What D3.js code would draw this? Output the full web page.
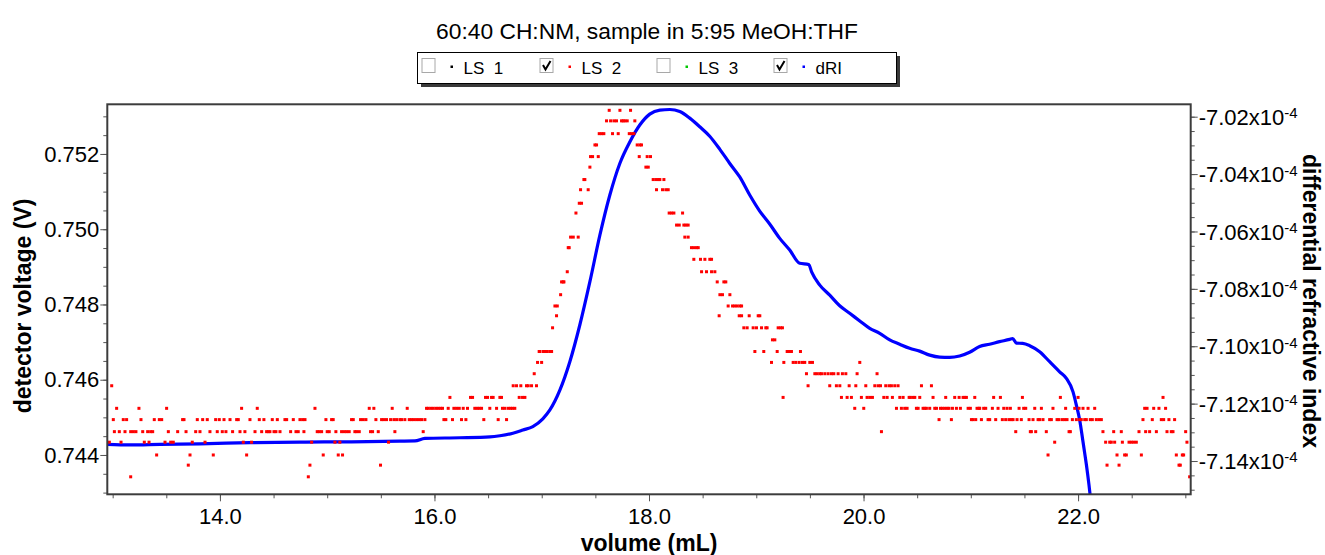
<!DOCTYPE html>
<html><head><meta charset="utf-8">
<script src="https://cdn.jsdelivr.net/npm/d3@7"></script>
<style>
body{margin:0;background:#fff}
svg{display:block;font-family:"Liberation Sans",Arial,sans-serif}
</style>
</head><body>
<svg id="chart" width="1325" height="555"></svg>
<script>
// ---------------- data ----------------
const chartTitle = "60:40 CH:NM, sample in 5:95 MeOH:THF";
const xAxisTitle = "volume (mL)";
const leftAxisTitle = "detector voltage (V)";
const rightAxisTitle = "differential refractive index";

const xTicks = [14, 16, 18, 20, 22];
const xTickLabels = ["14.0", "16.0", "18.0", "20.0", "22.0"];
const leftTicks = [0.744, 0.746, 0.748, 0.750, 0.752];
const leftTickLabels = ["0.744", "0.746", "0.748", "0.750", "0.752"];
const rightTicks = [-7.14, -7.12, -7.10, -7.08, -7.06, -7.04, -7.02];   // x10^-4
const rightTickLabels = ["-7.14", "-7.12", "-7.10", "-7.08", "-7.06", "-7.04", "-7.02"];
const rightTickExponent = "-4";

const legendNames = ["LS  1", "LS  2", "LS  3", "dRI"];
const legendColors = ["#000000", "#ff0000", "#00c800", "#0000ff"];
const legendChecked = [false, true, false, true];

// dRI trace: [volume mL, dRI in units of 1e-4]
const driPoints = [
 [12.950,-7.1342],[13.162,-7.1344],[13.441,-7.1342],[13.814,-7.1340],[14.280,-7.1336],
 [14.746,-7.1334],[15.212,-7.1333],[15.678,-7.1331],[15.818,-7.1330],[15.911,-7.1321],
 [16.237,-7.1319],[16.517,-7.1316],[16.610,-7.1312],[16.731,-7.1303],[16.824,-7.1292],
 [16.917,-7.1280],[17.010,-7.1253],[17.076,-7.1222],[17.169,-7.1153],[17.262,-7.1054],
 [17.355,-7.0926],[17.449,-7.0775],[17.542,-7.0613],[17.635,-7.0473],[17.728,-7.0363],
 [17.821,-7.0288],[17.914,-7.0229],[18.007,-7.0191],[18.101,-7.0177],[18.194,-7.0175],
 [18.287,-7.0182],[18.380,-7.0205],[18.473,-7.0235],[18.566,-7.0268],[18.659,-7.0313],
 [18.753,-7.0363],[18.846,-7.0410],[18.939,-7.0473],[19.032,-7.0529],[19.125,-7.0574],
 [19.219,-7.0624],[19.312,-7.0665],[19.405,-7.0711],[19.489,-7.0715],[19.517,-7.0742],
 [19.592,-7.0787],[19.685,-7.0822],[19.778,-7.0859],[19.871,-7.0885],[19.965,-7.0912],
 [20.058,-7.0938],[20.151,-7.0955],[20.244,-7.0978],[20.337,-7.0993],[20.430,-7.1007],
 [20.523,-7.1017],[20.617,-7.1031],[20.710,-7.1038],[20.803,-7.1039],[20.896,-7.1034],
 [20.989,-7.1021],[21.082,-7.1001],[21.175,-7.0993],[21.268,-7.0984],[21.362,-7.0976],
 [21.390,-7.0973],[21.425,-7.0989],[21.484,-7.0990],[21.549,-7.0998],[21.642,-7.1019],
 [21.735,-7.1054],[21.828,-7.1089],[21.891,-7.1112],[21.953,-7.1159],[21.984,-7.1205],
 [22.015,-7.1257],[22.046,-7.1333],[22.078,-7.1414],[22.102,-7.1484],[22.118,-7.1537]
];

// LS 2 detector voltage points: [volume mL, voltage V]
const ls2Points = [
 [12.969,.74434],[12.991,.74584],[13.006,.74494],[13.016,.74462],[13.037,.74524],[13.062,.74462],
 [13.078,.74434],[13.099,.74494],[13.115,.74462],[13.130,.74494],[13.168,.74342],[13.168,.74462],
 [13.193,.74462],[13.217,.74462],[13.245,.74524],[13.264,.74494],[13.280,.74462],[13.295,.74434],
 [13.326,.74462],[13.339,.74434],[13.354,.74462],[13.373,.74462],[13.388,.74494],[13.410,.74400],
 [13.435,.74494],[13.457,.74494],[13.488,.74434],[13.503,.74524],[13.519,.74462],[13.541,.74434],
 [13.565,.74434],[13.606,.74462],[13.652,.74494],[13.665,.74494],[13.684,.74462],[13.705,.74373],
 [13.721,.74400],[13.742,.74434],[13.774,.74462],[13.789,.74494],[13.814,.74462],[13.839,.74494],
 [13.861,.74434],[13.882,.74494],[13.907,.74462],[13.938,.74400],[13.960,.74494],[13.975,.74462],
 [13.994,.74494],[14.022,.74462],[14.038,.74494],[14.056,.74462],[14.094,.74494],[14.118,.74462],
 [14.156,.74494],[14.171,.74494],[14.187,.74462],[14.202,.74524],[14.218,.74434],[14.233,.74462],
 [14.249,.74400],[14.280,.74494],[14.295,.74434],[14.327,.74462],[14.348,.74524],[14.367,.74494],
 [14.389,.74462],[14.410,.74494],[14.435,.74462],[14.451,.74462],[14.466,.74462],[14.488,.74494],
 [14.504,.74462],[14.522,.74462],[14.535,.74494],[14.560,.74462],[14.606,.74494],[14.622,.74494],
 [14.659,.74462],[14.684,.74494],[14.709,.74462],[14.730,.74462],[14.746,.74494],[14.771,.74494],
 [14.783,.74462],[14.793,.74494],[14.824,.74342],[14.839,.74373],[14.855,.74434],[14.886,.74524],
 [14.907,.74462],[14.926,.74462],
 [14.948,.74462],[14.963,.74400],[14.988,.74494],[15.000,.74462],[15.019,.74462],[15.041,.74494],
 [15.056,.74494],[15.072,.74434],[15.081,.74462],[15.103,.74400],[15.118,.74434],[15.134,.74462],
 [15.143,.74400],[15.159,.74462],[15.181,.74462],[15.205,.74462],[15.227,.74494],[15.243,.74494],
 [15.258,.74462],[15.274,.74462],[15.299,.74462],[15.311,.74494],[15.336,.74494],[15.361,.74494],
 [15.392,.74524],[15.404,.74462],[15.423,.74462],[15.435,.74524],[15.454,.74494],[15.476,.74462],
 [15.497,.74373],[15.507,.74494],[15.528,.74494],[15.553,.74494],[15.572,.74434],[15.591,.74494],
 [15.606,.74524],[15.622,.74494],[15.631,.74462],[15.647,.74494],[15.678,.74494],[15.693,.74494],
 [15.724,.74494],[15.746,.74524],[15.765,.74494],[15.786,.74494],[15.808,.74494],[15.833,.74494],
 [15.858,.74494],[15.880,.74494],[15.895,.74462],[15.911,.74494],[15.926,.74524],[15.942,.74524],
 [15.966,.74524],[15.988,.74524],[16.013,.74524],[16.035,.74524],[16.057,.74524],[16.075,.74524],
 [16.088,.74494],[16.106,.74494],[16.128,.74524],[16.144,.74553],[16.168,.74494],[16.181,.74524],
 [16.206,.74524],[16.231,.74524],[16.252,.74494],[16.268,.74524],[16.293,.74494],[16.308,.74524],
 [16.336,.74553],[16.355,.74553],[16.376,.74524],[16.398,.74524],[16.417,.74524],[16.439,.74524],
 [16.460,.74494],[16.476,.74553],[16.495,.74553],[16.516,.74524],[16.532,.74553],[16.547,.74553],
 [16.579,.74524],[16.594,.74494],[16.610,.74553],[16.625,.74553],[16.634,.74524],[16.656,.74524],
 [16.672,.74494],[16.687,.74524],[16.709,.74524],[16.728,.74524],[16.734,.74584],[16.749,.74524],
 [16.765,.74584],[16.790,.74553],[16.805,.74584],[16.821,.74553],[16.843,.74553],[16.858,.74584],
 [16.874,.74584],[16.905,.74584],[16.930,.74616],[16.951,.74584],[16.961,.74646],[16.976,.74675],
 [16.983,.74675],[16.999,.74646],[17.014,.74675],[17.030,.74675],[17.051,.74675],[17.076,.74675],
 [17.092,.74675],[17.101,.74738],[17.123,.74796],[17.138,.74770],[17.145,.74796],[17.176,.74826],
 [17.185,.74860],[17.200,.74860],[17.207,.74860],[17.238,.74887],[17.247,.74951],[17.256,.74951],
 [17.269,.74979],[17.294,.74979],[17.319,.75043],[17.340,.74979],[17.350,.75069],[17.362,.75105],
 [17.371,.75069],[17.393,.75132],[17.402,.75132],[17.433,.75105],[17.449,.75165],[17.455,.75193],
 [17.474,.75193],[17.496,.75224],[17.511,.75224],[17.527,.75193],[17.536,.75254],[17.558,.75254],
 [17.579,.75254],[17.604,.75288],[17.629,.75316],[17.642,.75288],[17.660,.75254],[17.673,.75288],
 [17.697,.75288],[17.713,.75254],[17.729,.75316],[17.744,.75288],[17.760,.75288],[17.775,.75288],
 [17.797,.75288],[17.816,.75254],[17.828,.75316],[17.837,.75254],[17.859,.75254],[17.868,.75288],
 [17.890,.75224],[17.909,.75193],[17.915,.75224],[17.930,.75224],[17.971,.75165],[17.983,.75193],
 [17.993,.75165],[18.014,.75193],[18.039,.75132],[18.064,.75132],[18.070,.75105],[18.086,.75132],
 [18.101,.75132],[18.126,.75105],[18.139,.75132],[18.157,.75105],[18.179,.75105],[18.188,.75043],
 [18.210,.75043],[18.232,.75043],[18.257,.75011],[18.282,.75011],[18.313,.75043],[18.325,.75011],
 [18.334,.74979],[18.344,.75011],[18.365,.75011],[18.365,.74979],[18.396,.74951],[18.418,.74951],
 [18.418,.74920],[18.443,.74951],[18.459,.74951],[18.480,.74920],[18.490,.74887],[18.521,.74920],
 [18.536,.74887],[18.567,.74920],[18.583,.74920],[18.583,.74887],[18.614,.74887],[18.636,.74860],
 [18.654,.74770],[18.661,.74826],[18.685,.74826],[18.698,.74860],[18.716,.74860],[18.738,.74796],
 [18.754,.74826],[18.779,.74796],[18.800,.74796],[18.822,.74796],[18.841,.74770],[18.847,.74796],
 [18.863,.74796],[18.863,.74770],[18.884,.74738],[18.915,.74738],[18.934,.74770],[18.971,.74738],
 [18.987,.74675],[19.002,.74738],[19.018,.74770],
 [19.033,.74770],[19.049,.74738],[19.070,.74675],[19.089,.74738],[19.101,.74738],[19.142,.74646],
 [19.151,.74706],[19.173,.74706],[19.195,.74675],[19.204,.74738],[19.226,.74738],[19.244,.74738],
 [19.250,.74553],[19.257,.74646],[19.288,.74675],[19.306,.74675],[19.328,.74675],[19.344,.74646],
 [19.369,.74646],[19.400,.74646],[19.412,.74675],[19.431,.74646],[19.452,.74646],[19.468,.74616],
 [19.483,.74584],[19.499,.74646],[19.524,.74646],[19.546,.74616],[19.567,.74616],[19.592,.74616],
 [19.608,.74616],[19.639,.74616],[19.670,.74616],[19.685,.74584],[19.701,.74616],[19.723,.74616],
 [19.747,.74584],[19.763,.74616],[19.779,.74584],[19.794,.74553],[19.803,.74616],[19.835,.74616],
 [19.847,.74553],[19.866,.74584],[19.887,.74553],[19.918,.74524],[19.928,.74584],[19.940,.74616],
 [19.965,.74646],[19.980,.74553],[20.002,.74524],[20.021,.74584],[20.033,.74553],[20.058,.74553],
 [20.083,.74553],[20.105,.74584],[20.126,.74616],[20.136,.74584],[20.158,.74584],[20.167,.74462],
 [20.189,.74553],[20.207,.74584],[20.220,.74553],[20.238,.74584],[20.260,.74584],[20.269,.74553],
 [20.291,.74584],[20.307,.74524],[20.322,.74584],[20.338,.74553],[20.353,.74524],[20.369,.74553],
 [20.384,.74524],[20.406,.74524],[20.425,.74553],[20.437,.74553],[20.462,.74553],[20.478,.74553],
 [20.493,.74524],[20.509,.74524],[20.524,.74553],[20.540,.74584],[20.555,.74524],[20.571,.74524],
 [20.586,.74524],[20.617,.74524],[20.633,.74584],[20.648,.74553],[20.664,.74524],[20.680,.74524],
 [20.704,.74494],[20.717,.74524],[20.735,.74524],[20.757,.74524],[20.766,.74553],[20.779,.74524],
 [20.797,.74524],[20.819,.74494],[20.829,.74524],[20.850,.74553],[20.866,.74524],[20.891,.74553],
 [20.903,.74524],[20.928,.74553],[20.944,.74553],[20.959,.74553],[20.975,.74524],[20.996,.74524],
 [21.006,.74494],[21.021,.74494],[21.037,.74553],[21.046,.74494],[21.058,.74524],[21.077,.74524],
 [21.083,.74524],[21.099,.74494],[21.120,.74524],[21.139,.74524],[21.161,.74494],[21.176,.74494],
 [21.201,.74524],[21.213,.74553],[21.232,.74494],[21.254,.74524],[21.276,.74553],[21.294,.74494],
 [21.307,.74524],[21.325,.74494],[21.338,.74524],[21.356,.74494],[21.369,.74524],[21.378,.74494],
 [21.394,.74494],[21.419,.74462],[21.431,.74494],[21.450,.74524],[21.471,.74494],[21.481,.74553],
 [21.493,.74524],[21.512,.74524],[21.543,.74494],[21.555,.74462],[21.565,.74462],[21.580,.74494],
 [21.596,.74524],[21.605,.74462],[21.627,.74494],[21.642,.74494],[21.658,.74524],[21.673,.74494],
 [21.704,.74462],[21.720,.74400],[21.735,.74494],[21.751,.74494],[21.766,.74524],[21.782,.74434],
 [21.804,.74494],[21.822,.74494],[21.835,.74553],[21.853,.74494],[21.875,.74494],[21.884,.74524],
 [21.897,.74494],[21.916,.74462],[21.928,.74462],[21.947,.74494],[21.969,.74524],[21.984,.74494],
 [22.000,.74553],[22.009,.74524],[22.015,.74494],[22.030,.74494],[22.046,.74524],[22.062,.74494],
 [22.077,.74494],[22.093,.74524],[22.114,.74494],[22.133,.74494],[22.155,.74524],[22.170,.74494],
 [22.195,.74494],[22.217,.74494],[22.232,.74462],[22.257,.74434],[22.270,.74373],[22.295,.74434],
 [22.310,.74434],[22.332,.74462],[22.341,.74434],[22.363,.74400],[22.382,.74373],[22.403,.74462],
 [22.413,.74434],[22.434,.74400],[22.450,.74400],[22.475,.74434],[22.496,.74434],[22.518,.74434],
 [22.543,.74434],[22.568,.74462],[22.590,.74400],[22.605,.74494],[22.621,.74524],[22.630,.74462],
 [22.643,.74524],[22.667,.74462],[22.692,.74494],[22.705,.74524],[22.730,.74462],[22.754,.74524],
 [22.776,.74494],[22.792,.74553],[22.798,.74494],[22.816,.74524],[22.829,.74462],[22.847,.74494],
 [22.869,.74462],[22.885,.74462],[22.900,.74494],[22.916,.74400],[22.941,.74373],[22.953,.74373],
 [22.972,.74400],[22.984,.74400],[23.003,.74462],[23.015,.74434],[23.040,.74342]
];

// ---------------- layout ----------------
const W = 1325, H = 555;
const plot = {left: 107.3, right: 1190.7, top: 104.3, bottom: 494.3};
const FONT = '"Liberation Sans", Arial, sans-serif';

const svg = d3.select("#chart");

const x = d3.scaleLinear().domain([12.95, 23.05]).range([plot.left, plot.right]);
const yL = d3.scaleLinear().domain([0.742955, 0.75332]).range([plot.bottom, plot.top]);
const yR = d3.scaleLinear().domain([-7.1516, -7.01568]).range([plot.bottom, plot.top]);

// title
svg.append("text").attr("x", 647).attr("y", 39).attr("text-anchor", "middle")
  .attr("font-size", 22.8).attr("fill", "#000").text(chartTitle);

// legend
const lg = svg.append("g");
lg.append("rect").attr("x", 421).attr("y", 56).attr("width", 479).attr("height", 31).attr("fill", "#3a3a3a");
lg.append("rect").attr("x", 417.5).attr("y", 52.5).attr("width", 479).attr("height", 31)
  .attr("fill", "#fff").attr("stroke", "#000").attr("stroke-width", 1);
const itemX = [421.5, 539.5, 656.5, 773.5];
const items = lg.selectAll("g.item").data(legendNames).join("g").attr("class", "item")
  .attr("transform", (d, i) => `translate(${itemX[i]},0)`);
items.append("rect").attr("x", 0.5).attr("y", 58.5).attr("width", 13).attr("height", 14)
  .attr("fill", "#fff").attr("stroke", "#a8a8a8").attr("stroke-width", 1);
items.filter((d, i) => legendChecked[i]).append("path")
  .attr("d", "M3.5,65 L6,69.5 L11,61").attr("fill", "none").attr("stroke", "#000").attr("stroke-width", 2);
items.append("rect").attr("x", 29).attr("y", 65.5).attr("width", 2.5).attr("height", 2.5)
  .attr("fill", (d, i) => legendColors[i]);
items.append("text").attr("x", 42).attr("y", 74).attr("font-size", 17).attr("fill", "#000")
  .style("white-space", "pre").text(d => d);

// clip
svg.append("clipPath").attr("id", "clip").append("rect")
  .attr("x", plot.left).attr("y", plot.top)
  .attr("width", plot.right - plot.left).attr("height", plot.bottom - plot.top);

// axes helpers
function styleAxis(g) {
  g.select(".domain").remove();
  g.selectAll(".tick line").attr("stroke", "#555").attr("stroke-width", 1);
  g.selectAll(".tick text").attr("fill", "#000").attr("font-size", 22).attr("font-family", FONT);
}
const xMinor = d3.range(13, 23.01, 0.5);
const lMinor = d3.range(0.743, 0.75301, 0.0005);
const rMinor = d3.range(-7.15, -7.0199, 0.005);

svg.append("g").attr("transform", `translate(0,${plot.bottom})`)
  .call(d3.axisBottom(x).tickValues(xMinor).tickSize(4).tickFormat("")).call(styleAxis);
svg.append("g").attr("transform", `translate(0,${plot.bottom})`)
  .call(d3.axisBottom(x).tickValues(xTicks).tickSize(7).tickPadding(7)
    .tickFormat((d, i) => xTickLabels[i])).call(styleAxis);

svg.append("g").attr("transform", `translate(${plot.left},0)`)
  .call(d3.axisLeft(yL).tickValues(lMinor).tickSize(4).tickFormat("")).call(styleAxis);
svg.append("g").attr("transform", `translate(${plot.left},0)`)
  .call(d3.axisLeft(yL).tickValues(leftTicks).tickSize(7).tickPadding(1)
    .tickFormat((d, i) => leftTickLabels[i])).call(styleAxis);

svg.append("g").attr("transform", `translate(${plot.right},0)`)
  .call(d3.axisRight(yR).tickValues(rMinor).tickSize(4).tickFormat("")).call(styleAxis);
const rAx = svg.append("g").attr("transform", `translate(${plot.right},0)`)
  .call(d3.axisRight(yR).tickValues(rightTicks).tickSize(7).tickFormat("")).call(styleAxis);
rAx.selectAll(".tick").each(function(d, i) {
  const t = d3.select(this).append("text").attr("x", 8).attr("dy", "0.35em")
    .attr("fill", "#000").attr("font-size", 22).attr("font-family", FONT).attr("text-anchor", "start");
  t.append("tspan").text(rightTickLabels[i] + "x10");
  t.append("tspan").attr("dy", "-0.45em").attr("font-size", 15).text(rightTickExponent);
});

// series: dRI line (right axis)
const line = d3.line().x(d => x(d[0])).y(d => yR(d[1])).curve(d3.curveMonotoneX);
svg.append("path").attr("clip-path", "url(#clip)").datum(driPoints)
  .attr("d", line).attr("fill", "none").attr("stroke", "#0000ff").attr("stroke-width", 3.2)
  .attr("stroke-linejoin", "round");

// series: LS 2 points (left axis)
svg.append("g").attr("clip-path", "url(#clip)").selectAll("rect").data(ls2Points).join("rect")
  .attr("x", d => x(d[0]) - 1.5).attr("y", d => yL(d[1]) - 1.5)
  .attr("width", 3).attr("height", 3).attr("fill", "#ff0000");

// frame
svg.append("rect").attr("x", plot.left).attr("y", plot.top)
  .attr("width", plot.right - plot.left).attr("height", plot.bottom - plot.top)
  .attr("fill", "none").attr("stroke", "#3c3c3c").attr("stroke-width", 2);

// axis titles
svg.append("text").attr("transform", `translate(${(plot.left + plot.right) / 2},551)`)
  .attr("text-anchor", "middle").attr("font-size", 23).attr("font-weight", "bold").text(xAxisTitle);
svg.append("text").attr("transform", "translate(31,306) rotate(-90)")
  .attr("text-anchor", "middle").attr("font-size", 23).attr("font-weight", "bold").text(leftAxisTitle);
svg.append("text").attr("transform", "translate(1303,301) rotate(90)")
  .attr("text-anchor", "middle").attr("font-size", 23).attr("font-weight", "bold").text(rightAxisTitle);
</script>
</body></html>
